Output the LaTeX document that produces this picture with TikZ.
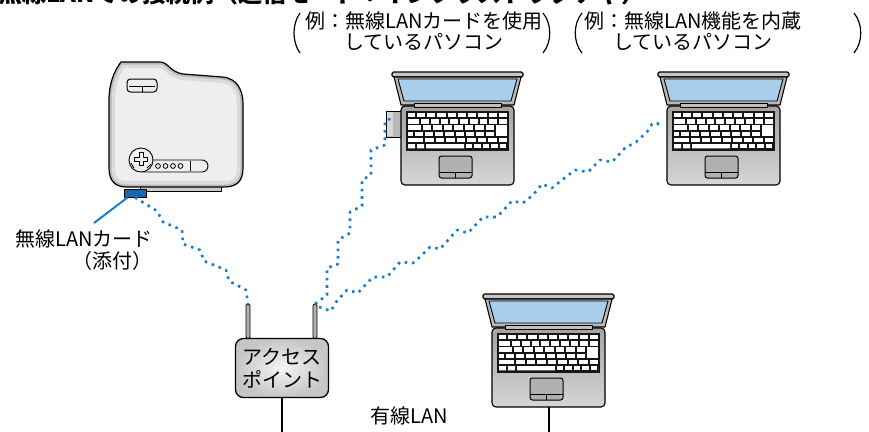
\documentclass[tikz,border=0pt]{standalone}
\usepackage{fontspec}
\setmainfont{Noto Sans CJK JP}
\definecolor{wlanblue}{HTML}{1C7CCC}
\definecolor{cardblue}{HTML}{1565B8}
\definecolor{screenblue}{HTML}{A9CEEC}
\definecolor{keyblack}{HTML}{161616}

% notebook pc, origin at the top left of the lid
\tikzset{
  pics/laptop/.style={code={
    % base
    \shadedraw[top color=gray!72, bottom color=gray!32, line width=1.1pt, rounded corners=4pt] (9,34) rectangle (122,113);
    % lid and screen
    \draw[fill=gray!45, line width=1.1pt, rounded corners=1.5pt] (0,0) rectangle (131,5);
    \draw[fill=gray!55, line width=1.1pt] (2,5) -- (129,5) -- (122,33) -- (9,33) -- cycle;
    \draw[fill=screenblue, line width=0.9pt] (6,7) -- (125,7) -- (119,29) -- (12,29) -- cycle;
    \draw[fill=gray!50, line width=0.9pt] (22,31) rectangle (109,35);
    % keyboard
    \fill[keyblack] (14,39) rectangle (117,79);
    \foreach \y/\f/\s/\n/\e in {41/23/25/9/115, 47.2/27/29/9/115, 53.4/29/31/7/102,
                               59.6/21/23/8/102, 65.8/31/33/8/115} {
      \fill[white] (16,\y) rectangle (\f,\y+4.4);
      \pgfmathsetmacro\p{(\e-\s+2)/\n}
      \foreach \k in {1,...,\n}
        \fill[white] ({\s+(\k-1)*\p},\y) rectangle ({\s+\k*\p-2},\y+4.4);
    }
    \fill[white] (104,53.4) rectangle (115,64);
    \fill[white] (16,72) rectangle (23,76.4) (25,72) rectangle (32,76.4) (34,72) rectangle (72,76.4);
    \foreach \k in {0,...,4}
      \fill[white] ({74+\k*8.4},72) rectangle ({80.4+\k*8.4},76.4);
    % touch pad
    \draw[fill=gray!62, line width=1pt, rounded corners=2.5pt] (47,84) rectangle (80,106);
    \draw[line width=0.8pt] (47,100) -- (80,100) (63.5,100) -- (63.5,106);
    \coordinate (-foot) at (65.5,113);
  }}
}

% outline of the projector seen from above
\def\projoutline{(121,62) -- (160,62) .. controls (168,62) and (170,72) .. (183,74) -- (222,77)
  .. controls (237,78) and (243,90) .. (243,104) -- (243,168) .. controls (243,181) and (237,187) .. (224,187)
  -- (127,187) .. controls (115,187) and (109,181) .. (109,168) -- (109,100)
  .. controls (109,84) and (114,71) .. (121,62) -- cycle}

\begin{document}
\begin{tikzpicture}[x=1pt, y=-1pt, line join=round,
  txt/.style={font=\fontsize{20}{21.5}\selectfont, inner sep=0pt},
  radio/.style={wlanblue, line width=2.6pt, dash pattern=on 2.6pt off 4.8pt},
  wire/.style={line width=2pt},
  antenna/.style={fill=gray!60, line width=0.8pt, rounded corners=1.5pt},
  paren/.style={line width=1.2pt},
  apbox/.style={draw, line width=1.3pt, rounded corners=8pt, inner color=gray!8, outer color=gray!45,
    minimum width=93pt, minimum height=59pt, align=center, txt}]
\useasboundingbox (0,0) rectangle (869,431);

\node[font=\fontsize{24}{24}\selectfont\bfseries, anchor=base west, inner sep=0pt] (title) at (-2,2.5)
  {無線LANでの接続例（通信モード：インフラストラクチャ）};

% notes above the two pcs
\node[txt, align=center] (ex1) at (424,31) {例：無線LANカードを使用\\しているパソコン};
\node[txt, align=center] (ex2) at (693,31) {例：無線LAN機能を内蔵\\しているパソコン};
\draw[paren] (300,13) .. controls (292,24) and (292,42) .. (300,53);
\draw[paren] (543,13) .. controls (552,24) and (552,42) .. (543,53);
\draw[paren] (582,13) .. controls (573,24) and (573,42) .. (582,53);
\draw[paren] (854,13) .. controls (863,24) and (863,42) .. (854,53);

% projector
\draw[fill=gray!40, line width=1pt] (140,183) rectangle (221,191);
\fill[gray!13] \projoutline;
\begin{scope}
  \clip \projoutline;
  \draw[gray!28, line width=12pt] \projoutline;
  \draw[gray!55, line width=5pt] \projoutline;
\end{scope}
\draw[line width=1.2pt] \projoutline;
\draw[fill=gray!13, line width=1pt, rounded corners=3.5pt] (127,79) rectangle (157,92);
\draw[line width=0.8pt] (129,86) -- (155,86) (142,86) -- (142,92);
\draw[fill=gray!13, line width=0.9pt, rounded corners=6pt] (138,160) rectangle (208,172);
\draw[fill=gray!13, line width=0.9pt] (141,160) circle (12);
\draw[line width=0.8pt] (139,152.5) -- (143,152.5) -- (143,157) -- (147.5,157) -- (147.5,161) -- (143,161)
  -- (143,165.5) -- (139,165.5) -- (139,161) -- (134.5,161) -- (134.5,157) -- (139,157) -- cycle;
\draw[line width=0.8pt] (131,163) -- (134,168) (151,164) -- (147,168);
\foreach \x in {158,165.5,173,180.5}
  \draw[line width=0.8pt] (\x,166) circle (2.4);
\draw[line width=0.9pt] (190,161) -- (190,171);
\node[draw, fill=cardblue, line width=0.9pt, minimum width=22pt, minimum height=8pt, inner sep=0pt] (card) at (135,193) {};

% card label
\node[txt, align=right, anchor=east, font=\fontsize{20}{22.5}\selectfont] (cardlabel) at (153,250) {無線LANカード\\（添付）};
\coordinate (leaderend) at (94,223);
\draw[wlanblue, line width=2pt] ([xshift=4pt]card.south west) -- (leaderend);

% access point
\node[apbox, font=\fontsize{20}{23}\selectfont] (ap) at (282,368) {アクセス\\ポイント};
\coordinate (antL) at (248,304);
\coordinate (antR) at (315,304);
\draw[antenna] (246,304) rectangle (250,338.5);
\draw[antenna] (313,304) rectangle (317,338.5);
\draw[wire] (ap.south) -- ++(0,34);

% pcs
\draw[fill=gray!55, line width=1pt] (386,111) rectangle (402,137);
\fill[gray!30] (387,112) rectangle (393,136);
\pic (pc1) at (392,72) {laptop};
\pic (pc2) at (658,72) {laptop};
\pic (pc3) at (483,294) {laptop};
\draw[wire] (pc3-foot) -- ++(0,26);
\node[txt] (wired) at (409,416) {有線LAN};

% radio links
\draw[radio] (card.south) -- (157,211) -- (163,222) -- (182,230) -- (183,244) -- (200,250) -- (204,261)
  -- (226,270) -- (229,281) -- (246,290) -- (antL);
\draw[radio] (antR) -- (327,295) -- (327,268) -- (338,264) -- (338,240) -- (350,233) -- (350,212)
  -- (362,206) -- (362,180) -- (371,175) -- (371,150) -- (385,145) -- (385,121) -- (392,118);
\draw[radio] ([shift={(4,3)}]antR) -- (331,311) -- (336,302) -- (347,290) -- (358,293) -- (367,283)
  -- (373,277) -- (387,277) -- (400,262) -- (413,263) -- (421,256) -- (430,247) -- (440,249)
  -- (457,230) -- (468,233) -- (483,217) -- (497,217) -- (512,201) -- (523,203) -- (533,195)
  -- (542,184) -- (552,188) -- (562,180) -- (575,170) -- (588,172) -- (600,160) -- (612,162)
  -- (625,148) -- (636,142) -- (647,132) -- (652,124) -- (657,123) -- (662,127);
\end{tikzpicture}
\end{document}
